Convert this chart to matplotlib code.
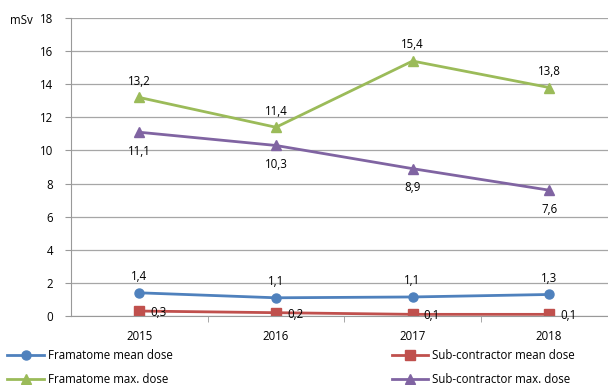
import matplotlib
matplotlib.use("Agg")
import matplotlib.pyplot as plt

years = ["2015", "2016", "2017", "2018"]
fra_mean = [1.4, 1.1, 1.1, 1.3]
sub_mean = [0.3, 0.2, 0.1, 0.1]
fra_max = [13.2, 11.4, 15.4, 13.8]
sub_max = [11.1, 10.3, 8.9, 7.6]

# real plotted positions for the mean series (labels are rounded)
fra_mean_y = [1.4, 1.1, 1.15, 1.3]
sub_mean_y = [0.3, 0.2, 0.1, 0.1]

plt.rcParams['font.family'] = ['Open Sans', 'DejaVu Sans']

fig = plt.figure(figsize=(6.08, 3.85), dpi=100)
ax = fig.add_axes([71 / 608, 1 - 316 / 385, (617.5 - 71) / 608, (316 - 18) / 385])

x = list(range(len(years)))
blue, red, green, purple = "#4F81BD", "#C0504D", "#9BBB59", "#8064A2"

h1, = ax.plot(x, fra_mean_y, color=blue, lw=2, marker="o", ms=6.5, label="Framatome mean dose")
h2, = ax.plot(x, sub_mean_y, color=red, lw=2, marker="s", ms=6.5, label="Sub-contractor mean dose")
h3, = ax.plot(x, fra_max, color=green, lw=2, marker="^", ms=7, label="Framatome max. dose")
h4, = ax.plot(x, sub_max, color=purple, lw=2, marker="^", ms=7, label="Sub-contractor max. dose")

fs = 8.3
for i in x:
    ax.annotate(f"{fra_mean[i]:.1f}".replace(".", ","), (i, fra_mean_y[i]), xytext=(0, 7),
                textcoords="offset points", ha="center", va="bottom", fontsize=fs)
    ax.annotate(f"{sub_mean[i]:.1f}".replace(".", ","), (i, sub_mean_y[i]), xytext=(8, -1),
                textcoords="offset points", ha="left", va="center", fontsize=fs)
    ax.annotate(f"{fra_max[i]:.1f}".replace(".", ","), (i, fra_max[i]), xytext=(0, 7),
                textcoords="offset points", ha="center", va="bottom", fontsize=fs)
    ax.annotate(f"{sub_max[i]:.1f}".replace(".", ","), (i, sub_max[i]), xytext=(0, -9),
                textcoords="offset points", ha="center", va="top", fontsize=fs)

ax.set_xlim(-0.5, 3.5)
ax.set_ylim(0, 18)
ax.set_yticks(range(0, 19, 2))
ax.set_xticks(x)
ax.set_xticklabels(years)
ax.set_xticks([0.5, 1.5, 2.5], minor=True)
ax.tick_params(axis="x", which="major", length=0, pad=10, labelsize=fs)
ax.tick_params(axis="x", which="minor", length=4, color="#999999")
ax.tick_params(axis="y", length=4, color="#999999", labelsize=fs, pad=9)
ax.grid(axis="y", color="#a6a6a6", lw=0.9)
ax.set_axisbelow(True)
for s in ["top", "right"]:
    ax.spines[s].set_visible(False)
for s in ["left", "bottom"]:
    ax.spines[s].set_color("#999999")

fig.text(21 / 608, 1 - 20 / 385, "mSv", fontsize=fs, ha="center", va="center")

fig.legend([h1, h3, h2, h4], [h.get_label() for h in (h1, h3, h2, h4)],
           loc="lower left", bbox_to_anchor=(-0.005, -0.03), ncol=2, frameon=False,
           fontsize=fs, columnspacing=19.0, handlelength=3.2, handletextpad=0.3,
           labelspacing=0.95)

fig.savefig("out.png", dpi=100)
